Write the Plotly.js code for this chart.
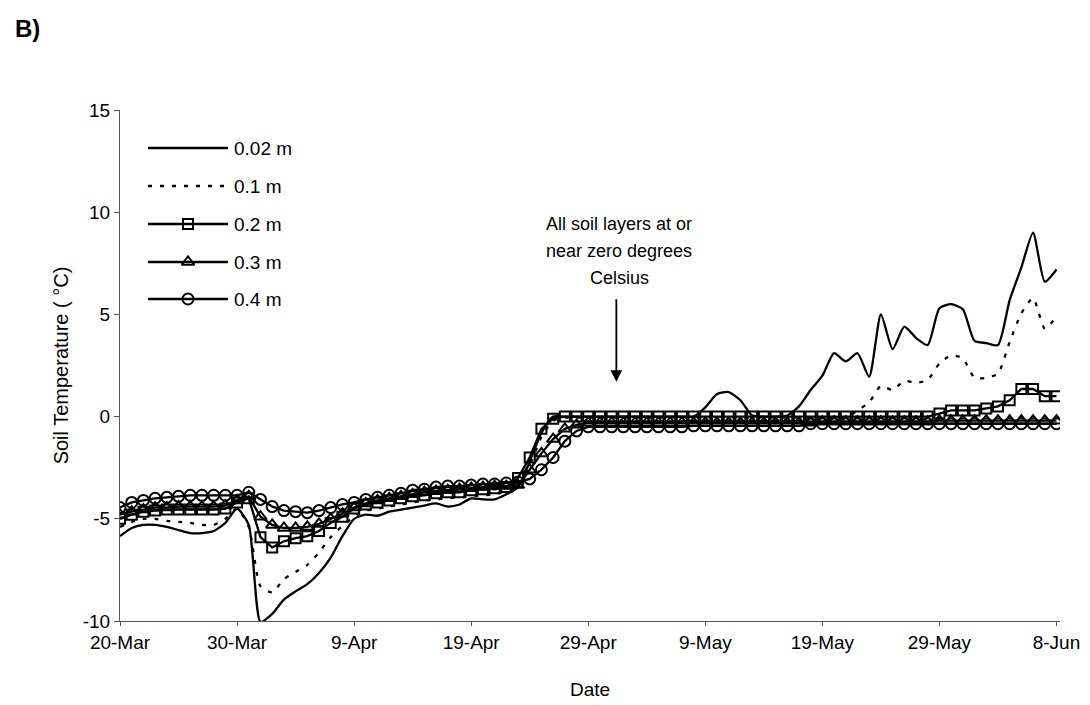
<!DOCTYPE html>
<html>
<head>
<meta charset="utf-8">
<script src="https://cdn.plot.ly/plotly-3.0.1.min.js"></script>
<style>
  html, body { margin: 0; padding: 0; background: #ffffff; }
  #chart { width: 1090px; height: 705px; }
</style>
</head>
<body>
<div id="chart"></div>
<script>
// Tick labels (every 10 days, day index 0 = 20-Mar)
const tickLabels = ['20-Mar', '30-Mar', '9-Apr', '19-Apr', '29-Apr', '9-May', '19-May', '29-May', '8-Jun'];
const tickDays = [0, 10, 20, 30, 40, 50, 60, 70, 80];

const seriesNames = ['0.02 m', '0.1 m', '0.2 m', '0.3 m', '0.4 m'];

// Daily soil temperature (°C), 20-Mar .. 8-Jun
const temp002 = [
  -5.85, -5.45, -5.3, -5.3, -5.4, -5.55, -5.7, -5.7, -5.6, -5.2,
  -4.5, -5.3, -10.05, -9.65, -8.95, -8.55, -8.2, -7.65, -6.9, -5.85,
  -5.0, -4.8, -4.85, -4.65, -4.55, -4.45, -4.35, -4.25, -4.4, -4.3,
  -4.0, -4.05, -4.05, -3.8, -3.45, -2.2, -0.8, 0.0, 0.0, 0.0,
  0.0, 0.0, 0.0, 0.0, 0.0, 0.0, 0.0, 0.0, 0.0, 0.0,
  0.45, 1.1, 1.2, 0.8, 0.05, 0.0, 0.0, 0.05, 0.5, 1.3,
  2.0, 3.1, 2.7, 3.1, 1.95, 5.0, 3.3, 4.4, 3.85, 3.5,
  5.3, 5.5, 5.25, 3.7, 3.6, 3.5, 5.7, 7.3, 9.0, 6.6,
  7.2
];
const temp01 = [
  -5.4, -5.15, -5.0, -5.0, -5.1, -5.15, -5.2, -5.3, -5.3, -5.0,
  -4.5, -5.4, -8.3, -8.6, -7.95, -7.6, -7.25, -6.65, -5.9, -5.35,
  -4.9, -4.6, -4.5, -4.4, -4.3, -4.2, -4.1, -4.05, -4.0, -3.95,
  -3.9, -3.85, -3.8, -3.65, -3.4, -2.4, -1.0, -0.2, -0.05, -0.05,
  -0.05, -0.05, -0.05, -0.05, -0.05, -0.05, -0.05, -0.05, -0.05, -0.05,
  -0.05, -0.05, -0.05, -0.05, -0.05, -0.05, -0.05, -0.05, -0.05, -0.05,
  -0.05, -0.05, -0.05, 0.3, 0.7, 1.5, 1.3, 1.75, 1.65, 1.8,
  2.6, 3.0, 2.85, 1.9, 1.9, 2.1, 3.65, 5.05, 5.8, 4.3,
  4.9
];
const temp02 = [
  -5.0, -4.8, -4.65, -4.6, -4.55, -4.55, -4.55, -4.55, -4.55, -4.5,
  -4.2, -4.0, -5.9, -6.4, -6.1, -5.95, -5.85, -5.6, -5.2, -4.9,
  -4.5, -4.3, -4.2, -4.1, -4.0, -3.9, -3.85, -3.75, -3.7, -3.7,
  -3.6, -3.55, -3.5, -3.45, -3.0, -2.0, -0.6, -0.1, 0.0, 0.0,
  0.0, 0.0, 0.0, 0.0, 0.0, 0.0, 0.0, 0.0, 0.0, 0.0,
  0.0, 0.0, 0.0, 0.0, 0.0, 0.0, 0.0, 0.0, 0.0, 0.0,
  0.0, 0.0, 0.0, 0.0, 0.0, 0.0, 0.0, 0.0, 0.0, 0.0,
  0.15, 0.3, 0.3, 0.3, 0.4, 0.5, 0.8, 1.35, 1.35, 1.0,
  1.0
];
const temp03 = [
  -4.8, -4.65, -4.55, -4.45, -4.45, -4.4, -4.4, -4.4, -4.4, -4.35,
  -4.1, -3.9, -4.9, -5.3, -5.45, -5.45, -5.4, -5.25, -5.0, -4.75,
  -4.45, -4.25, -4.1, -4.0, -3.9, -3.8, -3.7, -3.65, -3.6, -3.55,
  -3.5, -3.45, -3.4, -3.4, -3.35, -2.6, -1.8, -1.1, -0.6, -0.4,
  -0.3, -0.3, -0.3, -0.3, -0.3, -0.3, -0.3, -0.3, -0.3, -0.3,
  -0.3, -0.3, -0.3, -0.3, -0.3, -0.3, -0.3, -0.3, -0.3, -0.3,
  -0.25, -0.25, -0.25, -0.25, -0.25, -0.25, -0.25, -0.25, -0.25, -0.25,
  -0.2, -0.2, -0.2, -0.2, -0.2, -0.2, -0.2, -0.2, -0.2, -0.2,
  -0.2
];
const temp04 = [
  -4.45, -4.2, -4.1, -4.0, -3.95, -3.9, -3.85, -3.85, -3.85, -3.85,
  -3.85, -3.7, -4.05, -4.4, -4.6, -4.65, -4.7, -4.6, -4.45, -4.3,
  -4.2, -4.05, -3.95, -3.85, -3.75, -3.6, -3.55, -3.45, -3.4, -3.4,
  -3.35, -3.3, -3.3, -3.25, -3.2, -3.05, -2.6, -2.0, -1.2, -0.7,
  -0.5, -0.5, -0.5, -0.5, -0.5, -0.5, -0.5, -0.5, -0.5, -0.45,
  -0.45, -0.45, -0.45, -0.45, -0.45, -0.45, -0.45, -0.45, -0.45, -0.35,
  -0.35, -0.35, -0.35, -0.35, -0.35, -0.35, -0.35, -0.35, -0.35, -0.35,
  -0.35, -0.35, -0.35, -0.35, -0.35, -0.35, -0.35, -0.35, -0.35, -0.35,
  -0.35
];

const annotationLines = ['All soil layers at or', 'near zero degrees', 'Celsius'];

const FONT = 'Liberation Sans, Arial, sans-serif';
const FS = 19;
const days = temp002.map((_, i) => i);

const styles = [
  {mode: 'lines', line: {color: '#000', width: 2.3, shape: 'spline', smoothing: 0.6}},
  {mode: 'lines', line: {color: '#000', width: 2.3, dash: '4px,8px', shape: 'spline', smoothing: 0.6}},
  {mode: 'lines+markers', line: {color: '#000', width: 2.3}, marker: {symbol: 'square-open', size: 10, color: '#000', line: {width: 2}}},
  {mode: 'lines+markers', line: {color: '#000', width: 2.3}, marker: {symbol: 'triangle-up-open', size: 11, color: '#000', line: {width: 2}}},
  {mode: 'lines+markers', line: {color: '#000', width: 2.3}, marker: {symbol: 'circle-open', size: 11, color: '#000', line: {width: 2}}}
];
const allSeries = [temp002, temp01, temp02, temp03, temp04];

const traces = allSeries.map((ys, k) => Object.assign({
  type: 'scatter', x: days, y: ys, name: seriesNames[k], showlegend: false, hoverinfo: 'skip'
}, styles[k]));

// Custom legend drawn on an overlay pixel axis (x2/y2)
const legendY = [148, 186, 224, 262, 299];
const legMarkers = [null, null, 'square-open', 'triangle-up-open', 'circle-open'];
const annotations = [];
seriesNames.forEach((nm, k) => {
  traces.push({
    type: 'scatter', xaxis: 'x2', yaxis: 'y2', x: [148, 228], y: [legendY[k], legendY[k]],
    mode: 'lines', line: Object.assign({}, styles[k].line, {shape: 'linear'}), showlegend: false, hoverinfo: 'skip'
  });
  if (legMarkers[k]) {
    traces.push({
      type: 'scatter', xaxis: 'x2', yaxis: 'y2', x: [188], y: [legendY[k]], mode: 'markers',
      marker: Object.assign({}, styles[k].marker, {color: '#000'}), showlegend: false, hoverinfo: 'skip'
    });
  }
  annotations.push({
    xref: 'x2', yref: 'y2', x: 232, y: legendY[k], xanchor: 'left', yanchor: 'middle',
    text: nm, showarrow: false, font: {family: FONT, size: FS, color: '#000'}
  });
});

// Text annotation and arrow
const textY = [224, 251, 278];
annotationLines.forEach((t, i) => {
  annotations.push({
    xref: 'x2', yref: 'y2', x: 619, y: textY[i], xanchor: 'center', yanchor: 'middle',
    text: t, showarrow: false, font: {family: FONT, size: 18, color: '#000'}
  });
});
annotations.push({
  xref: 'x', yref: 'y', x: 42.4, y: 1.7, ax: 0, ay: -84, text: '',
  showarrow: true, arrowhead: 2, arrowsize: 1.3, arrowwidth: 1.8, arrowcolor: '#000'
});
// Panel label
annotations.push({
  xref: 'paper', yref: 'paper', x: -0.114, y: 1.16, xanchor: 'left', yanchor: 'middle',
  text: '<b>B)</b>', showarrow: false, font: {family: FONT, size: 24, color: '#000'}
});

const layout = {
  width: 1090, height: 705,
  margin: {l: 120, r: 30, t: 110, b: 84},
  paper_bgcolor: '#fff', plot_bgcolor: '#fff',
  font: {family: FONT, size: FS, color: '#000'},
  showlegend: false,
  xaxis: {
    range: [0, 80.3], tickvals: tickDays, ticktext: tickLabels,
    ticks: 'outside', ticklen: 4, tickcolor: '#555', tickwidth: 1,
    showline: true, linecolor: '#555', linewidth: 1,
    showgrid: false, zeroline: false,
    tickfont: {family: FONT, size: FS, color: '#000'},
    title: {text: 'Date', font: {family: FONT, size: FS, color: '#000'}, standoff: 30}
  },
  yaxis: {
    range: [-10, 15], tickvals: [-10, -5, 0, 5, 10, 15], ticktext: ['-10', '-5', '0', '5', '10', '15'],
    ticks: 'outside', ticklen: 5, tickcolor: '#555', tickwidth: 1,
    showline: true, linecolor: '#555', linewidth: 1,
    showgrid: false, zeroline: false,
    tickfont: {family: FONT, size: FS, color: '#000'},
    title: {text: 'Soil Temperature ( °C)', font: {family: FONT, size: 20, color: '#000'}, standoff: 8}
  },
  xaxis2: {overlaying: 'x', range: [120, 1060], visible: false, fixedrange: true},
  yaxis2: {overlaying: 'y', range: [621, 110], visible: false, fixedrange: true},
  annotations: annotations
};

Plotly.newPlot('chart', traces, layout, {displayModeBar: false, staticPlot: true});
</script>
</body>
</html>
